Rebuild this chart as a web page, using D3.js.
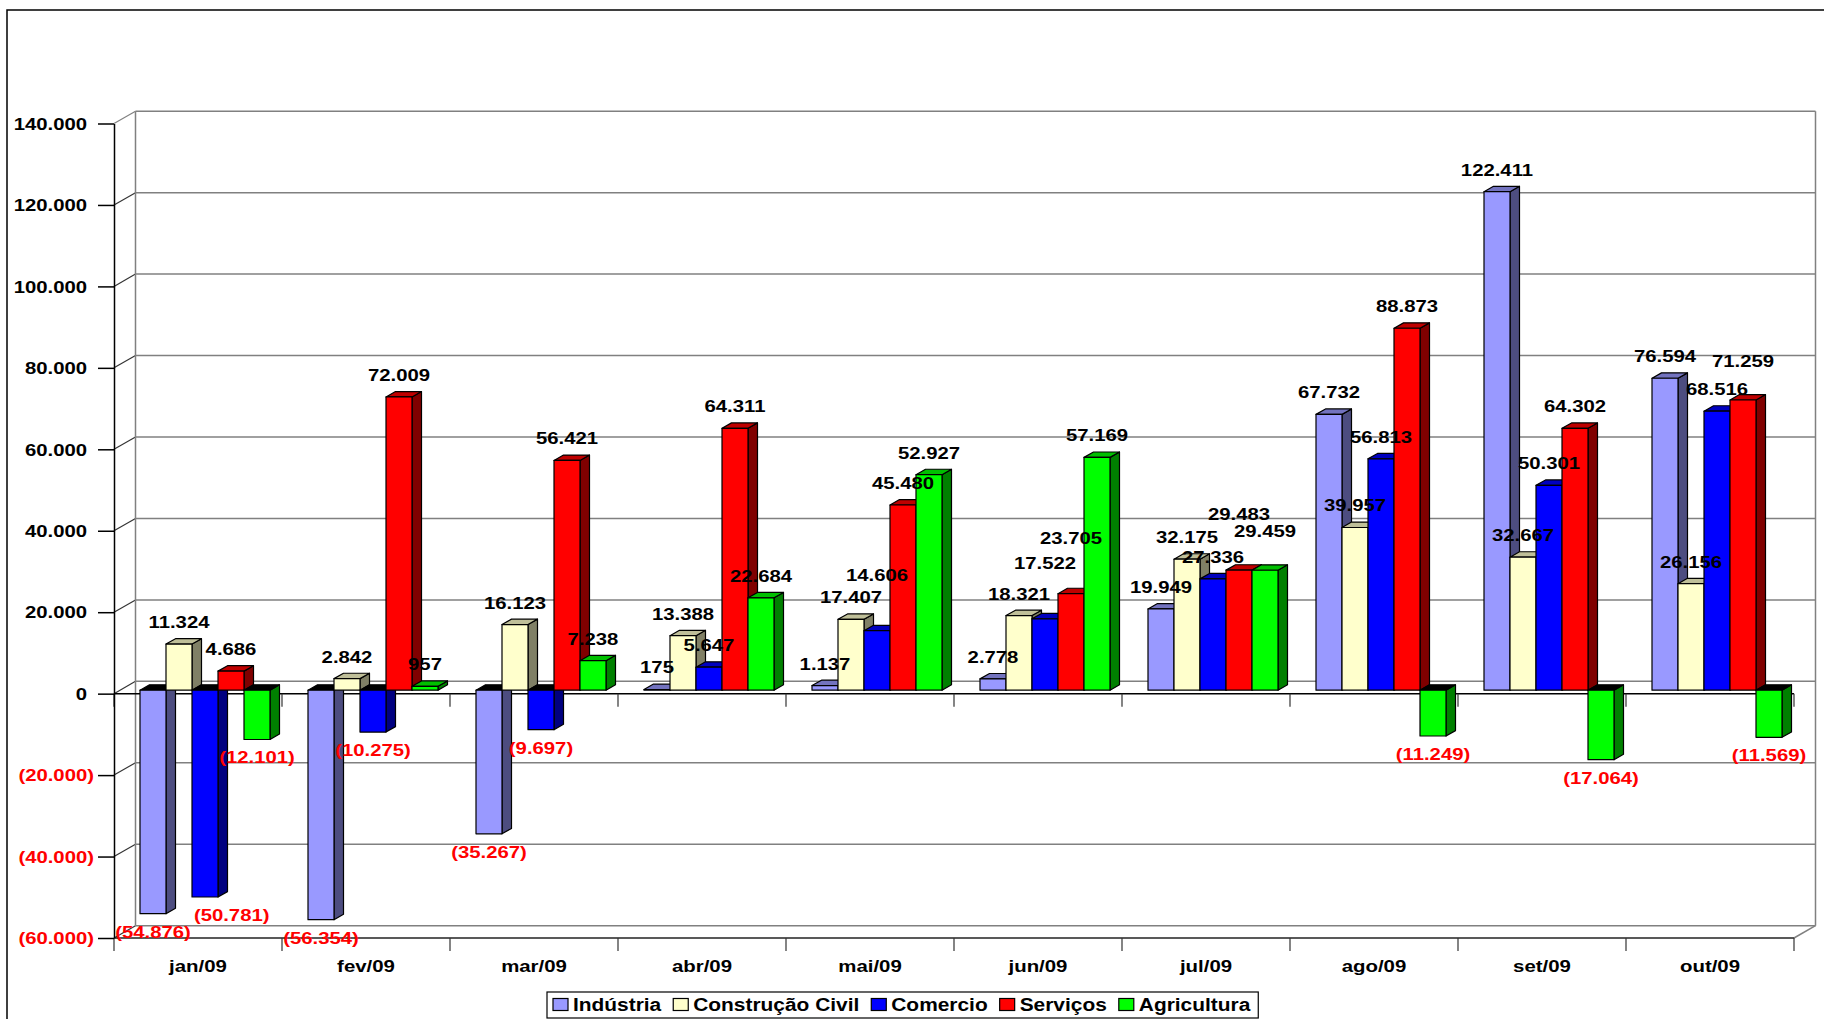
<!DOCTYPE html>
<html>
<head>
<meta charset="utf-8">
<script src="https://cdn.jsdelivr.net/npm/d3@7"></script>
<style>
  body { margin: 0; background: #fff; }
  text { font-family: "Liberation Sans", Arial, Helvetica, sans-serif; font-weight: bold; }
</style>
</head>
<body>
<svg id="chart"></svg>
<script>
// data
const categories = ["jan/09", "fev/09", "mar/09", "abr/09", "mai/09", "jun/09", "jul/09", "ago/09", "set/09", "out/09"];
const seriesNames = ["Indústria", "Construção Civil", "Comercio", "Serviços", "Agricultura"];
const industria   = [-54876, -56354, -35267, 175, 1137, 2778, 19949, 67732, 122411, 76594];
const construcao  = [11324, 2842, 16123, 13388, 17407, 18321, 32175, 39957, 32667, 26156];
const comercio    = [-50781, -10275, -9697, 5647, 14606, 17522, 27336, 56813, 50301, 68516];
const servicos    = [4686, 72009, 56421, 64311, 45480, 23705, 29483, 88873, 64302, 71259];
const agricultura = [-12101, 957, 7238, 22684, 52927, 57169, 29459, -11249, -17064, -11569];
const yTicks = [-60000, -40000, -20000, 0, 20000, 40000, 60000, 80000, 100000, 120000, 140000];

const seriesValues = [industria, construcao, comercio, servicos, agricultura];

// excel-like 3d shading: front, side, top
const palette = [
  { front: "#9999FF", side: "#4D4D80", top: "#7373BF" },
  { front: "#FFFFCC", side: "#808066", top: "#BFBF99" },
  { front: "#0000FF", side: "#000080", top: "#0000BF" },
  { front: "#FF0000", side: "#800000", top: "#BF0000" },
  { front: "#00FF00", side: "#008000", top: "#00BF00" }
];

const W = 1824, H = 1019;
const svg = d3.select("#chart").attr("width", W).attr("height", H);

const br = d3.formatLocale({ decimal: ",", thousands: ".", grouping: [3], currency: ["R$ ", ""] });
const f0 = br.format(",.0f");
const fmtNum = v => v < 0 ? "(" + f0(-v) + ")" : f0(v);

// outer frame (runs off the picture on the right and bottom)
svg.append("rect")
  .attr("x", 7).attr("y", 10).attr("width", 1900).attr("height", 1100)
  .attr("fill", "#fff").attr("stroke", "#000").attr("stroke-width", 1.5);

const left = 114, right = 1794;
const x = d3.scaleBand().domain(categories).range([left, right]);
const xs = d3.scaleBand().domain(seriesNames).range([20, 150]);
const y = d3.scaleLinear().domain([-60000, 140000]).range([938, 123.5]);

const DX = 21.5, DY = -12.3;   // depth of walls
const BDX = 9.5, BDY = -5.4;   // depth of bars
const OX = (DX - BDX) / 2, OY = (DY - BDY) / 2;
const yMin = d3.min(yTicks), yMax = d3.max(yTicks);

// back wall gridlines
svg.append("g").selectAll("line")
  .data(yTicks).join("line")
  .attr("x1", left + DX).attr("x2", right + DX)
  .attr("y1", d => y(d) + DY).attr("y2", d => y(d) + DY)
  .attr("stroke", "#808080").attr("stroke-width", 1.5);

// left side wall diagonals
svg.append("g").selectAll("line")
  .data(yTicks).join("line")
  .attr("x1", left).attr("x2", left + DX)
  .attr("y1", d => y(d)).attr("y2", d => y(d) + DY)
  .attr("stroke", d => d === yMax ? "#808080" : "#333").attr("stroke-width", 1.2);

// wall verticals and floor
const walls = svg.append("g").attr("stroke-width", 1.5);
walls.append("line").attr("x1", left + DX).attr("x2", left + DX)
  .attr("y1", y(yMax) + DY).attr("y2", y(yMin) + DY).attr("stroke", "#808080");
walls.append("line").attr("x1", right + DX).attr("x2", right + DX)
  .attr("y1", y(yMax) + DY).attr("y2", y(yMin) + DY).attr("stroke", "#808080");
walls.append("line").attr("x1", right).attr("x2", right + DX)
  .attr("y1", y(yMin)).attr("y2", y(yMin) + DY).attr("stroke", "#808080");
walls.append("line").attr("x1", left).attr("x2", right)
  .attr("y1", y(yMin)).attr("y2", y(yMin)).attr("stroke", "#222");

// category axis at zero + tick marks
walls.append("line").attr("x1", left).attr("x2", right)
  .attr("y1", y(0)).attr("y2", y(0)).attr("stroke", "#000");
const bounds = [left].concat(categories.map(c => x(c) + x.bandwidth()));
svg.append("g").selectAll("line")
  .data(bounds).join("line")
  .attr("x1", d => d).attr("x2", d => d)
  .attr("y1", y(0)).attr("y2", y(0) + 13)
  .attr("stroke", "#333").attr("stroke-width", 1.2);
svg.append("g").selectAll("line")
  .data(bounds).join("line")
  .attr("x1", d => d).attr("x2", d => d)
  .attr("y1", y(yMin)).attr("y2", y(yMin) + 13)
  .attr("stroke", "#333").attr("stroke-width", 1.2);

// value axis
const yAxis = svg.append("g")
  .attr("transform", `translate(${left},0)`)
  .call(d3.axisLeft(y).tickValues(yTicks).tickSize(16).tickSizeOuter(0).tickFormat(fmtNum));
yAxis.select(".domain").attr("stroke", "#000").attr("stroke-width", 1.5);
yAxis.selectAll(".tick line").attr("stroke", "#000").attr("stroke-width", 1.5);
yAxis.selectAll(".tick text")
  .attr("x", null).attr("dy", "0.36em")
  .attr("font-size", 16)
  .attr("font-family", null)
  .attr("fill", d => d < 0 ? "#FF0000" : "#000")
  .attr("transform", d => `translate(${d < 0 ? -20 : -27},0) scale(1.27,1)`);

// bars
const bars = categories.flatMap((c, i) =>
  seriesNames.map((s, j) => ({ cat: c, name: s, j: j, value: seriesValues[j][i] })));

const bw = xs.bandwidth();
const geo = d => {
  const x0 = x(d.cat) + xs(d.name) + OX;
  const y0 = y(0) + OY, yv = y(d.value) + OY;
  return { x0: x0, x1: x0 + bw, top: Math.min(y0, yv), bot: Math.max(y0, yv) };
};

const barG = svg.append("g").selectAll("g")
  .data(bars).join("g")
  .attr("stroke", "#000").attr("stroke-width", 1.2).attr("stroke-linejoin", "round");

barG.append("polygon")
  .attr("points", d => {
    const g = geo(d);
    return [[g.x1, g.top], [g.x1 + BDX, g.top + BDY], [g.x1 + BDX, g.bot + BDY], [g.x1, g.bot]].join(" ");
  })
  .attr("fill", d => palette[d.j].side);

barG.append("polygon")
  .attr("points", d => {
    const g = geo(d);
    return [[g.x0, g.top], [g.x0 + BDX, g.top + BDY], [g.x1 + BDX, g.top + BDY], [g.x1, g.top]].join(" ");
  })
  .attr("fill", d => d.value < 0 ? "#000" : palette[d.j].top);

barG.append("rect")
  .attr("x", d => geo(d).x0)
  .attr("y", d => geo(d).top)
  .attr("width", bw)
  .attr("height", d => geo(d).bot - geo(d).top)
  .attr("fill", d => palette[d.j].front);

// value labels: positive ones step up when they collide, negative ones slide right
const LSX = 1.27, LH = 17;
const labels = svg.append("g").selectAll("text")
  .data(bars).join("text")
  .attr("text-anchor", "middle")
  .attr("font-size", 16)
  .attr("fill", d => d.value < 0 ? "#FF0000" : "#000")
  .text(d => fmtNum(d.value));

const placed = [];
labels.each(function(d) {
  const g = geo(d);
  const w = this.getComputedTextLength() * LSX;
  let cx = g.x0 + bw / 2;
  let by = d.value < 0 ? g.bot + 24 : g.top - 16;
  const hit = () => placed.find(p =>
    Math.abs(p.cx - cx) < (p.w + w) / 2 + 2 && Math.abs(p.by - by) < LH);
  let p, n = 0;
  while ((p = hit()) && n < 8) {
    if (d.value < 0) cx = p.cx + (p.w + w) / 2 + 3;
    else by -= LH;
    n++;
  }
  placed.push({ cx: cx, by: by, w: w });
  d3.select(this).attr("transform", `translate(${cx},${by}) scale(${LSX},1)`);
});

// category labels
svg.append("g").selectAll("text")
  .data(categories).join("text")
  .attr("text-anchor", "middle")
  .attr("font-size", 17)
  .attr("fill", "#000")
  .attr("transform", d => `translate(${x(d) + x.bandwidth() / 2},972) scale(1.2,1)`)
  .text(d => d);

// legend
const legend = svg.append("g");
const legBox = legend.append("rect")
  .attr("x", 547).attr("y", 992).attr("height", 26)
  .attr("fill", "#fff").attr("stroke", "#000").attr("stroke-width", 1.2);
let lx = 553;
seriesNames.forEach((name, j) => {
  legend.append("rect")
    .attr("x", lx).attr("y", 998.5).attr("width", 15).attr("height", 12)
    .attr("fill", palette[j].front).attr("stroke", "#000").attr("stroke-width", 1.2);
  const t = legend.append("text")
    .attr("font-size", 19).attr("fill", "#000")
    .attr("transform", `translate(${lx + 20},1011) scale(1.1,1)`)
    .text(name);
  lx += 20 + t.node().getComputedTextLength() * 1.1 + 12;
});
legBox.attr("width", lx - 12 + 8 - 547);
</script>
</body>
</html>
